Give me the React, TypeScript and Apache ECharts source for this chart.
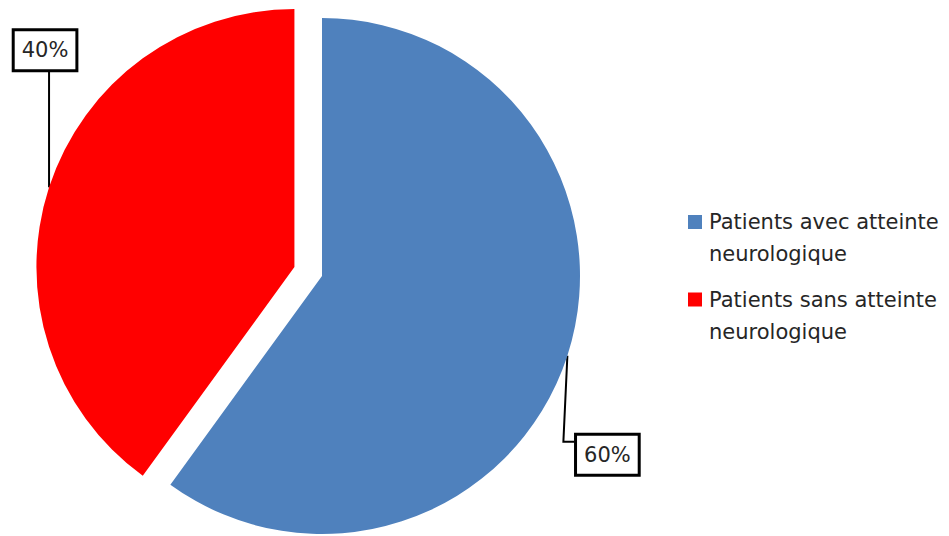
import React, { useEffect, useRef } from "react";
import * as echarts from "echarts";

const categories = ["Patients avec atteinte neurologique", "Patients sans atteinte neurologique"];
const values = [60, 40];
const colors = ["#4F81BD", "#FF0000"];
const explodedIndex = 1;

const CENTER = [322, 276];
const RADIUS = 258;
const EXPLODE = 29;
const FONT = "DejaVu Sans";

export default function App() {
  const ref = useRef<HTMLDivElement>(null);
  useEffect(() => {
    document.body.style.margin = "0";
    const chart = echarts.init(ref.current!, null, { renderer: "svg" });

    const total = values.reduce((a, b) => a + b, 0);
    const before = values.slice(0, explodedIndex).reduce((a, b) => a + b, 0);
    const midDeg = 90 - (360 * (before + values[explodedIndex] / 2)) / total;
    const midRad = (midDeg * Math.PI) / 180;
    const dx = EXPLODE * Math.cos(midRad);
    const dy = -EXPLODE * Math.sin(midRad);

    const hidden = {
      itemStyle: { color: "rgba(0,0,0,0)" },
      label: { show: false },
      labelLine: { show: false },
    };

    const labelLayout = (params: any) => {
      const pts = params.labelLinePoints;
      if (!pts || !pts.length) return {};
      const p0 = pts[0];
      if (params.dataIndex === 1) {
        return {
          x: p0[0] - 4,
          y: p0[1] - 137,
          align: "center",
          verticalAlign: "middle",
          labelLinePoints: [p0, [p0[0], p0[1] - 117], [p0[0], p0[1] - 117]],
        };
      }
      return {
        x: p0[0] + 40,
        y: p0[1] + 99,
        align: "center",
        verticalAlign: "middle",
        labelLinePoints: [p0, [p0[0] - 4, p0[1] + 86], [p0[0] + 7, p0[1] + 86]],
      };
    };

    const baseSeries = {
      type: "pie",
      radius: RADIUS,
      startAngle: 90,
      clockwise: true,
      avoidLabelOverlap: false,
      silent: true,
      emphasis: { disabled: true },
      label: {
        show: true,
        position: "outside",
        formatter: "{d}%",
        fontFamily: FONT,
        fontSize: 21,
        lineHeight: 23,
        color: "#262626",
        backgroundColor: "#ffffff",
        borderColor: "#000000",
        borderWidth: 3,
        padding: [8, 7, 7, 7],
      },
      labelLine: {
        show: true,
        lineStyle: { color: "#000000", width: 2 },
      },
      labelLayout,
    };

    chart.setOption({
      animation: false,
      backgroundColor: "#ffffff",
      legend: {
        orient: "vertical",
        left: 683,
        top: 169,
        itemWidth: 14,
        itemHeight: 14,
        itemGap: -13,
        icon: "rect",
        data: categories.map((name, i) => ({ name, itemStyle: { color: colors[i] } })),
        formatter: (name: string) =>
          "{p| }\n{a|" + name.replace(" neurologique", "}\n{a|neurologique}"),
        textStyle: {
          fontFamily: FONT,
          fontSize: 21,
          color: "#262626",
          rich: {
            p: { height: 32, lineHeight: 32, fontSize: 10 },
            a: { fontFamily: FONT, fontSize: 21, lineHeight: 32, color: "#262626", padding: [0, 0, 0, 2] },
          },
        },
        selectedMode: false,
      },
      series: [
        {
          ...baseSeries,
          center: CENTER,
          data: categories.map((name, i) =>
            i === explodedIndex
              ? { name, value: values[i], ...hidden }
              : { name, value: values[i], itemStyle: { color: colors[i] } }
          ),
        },
        {
          ...baseSeries,
          center: [CENTER[0] + dx, CENTER[1] + dy],
          data: categories.map((name, i) =>
            i !== explodedIndex
              ? { name, value: values[i], ...hidden }
              : { name, value: values[i], itemStyle: { color: colors[i] } }
          ),
        },
      ],
    });
    return () => chart.dispose();
  }, []);
  return <div ref={ref} style={{ width: 949, height: 536 }} />;
}
